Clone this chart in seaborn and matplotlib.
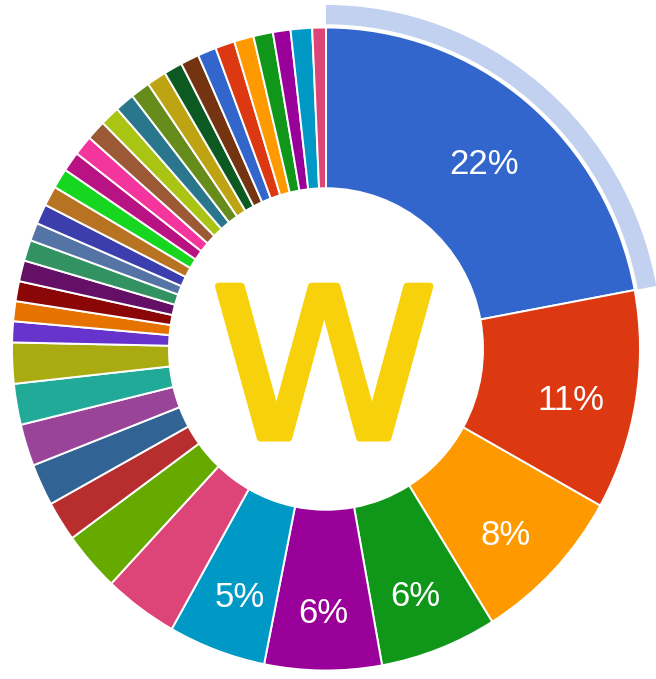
import matplotlib
matplotlib.use("Agg")
import matplotlib.pyplot as plt
import matplotlib.patheffects as pe
from matplotlib.patches import Wedge
from matplotlib.transforms import Affine2D
import numpy as np
import seaborn as sns

sns.set_theme(style="white")
plt.rcParams['font.family'] = ['Liberation Sans', 'DejaVu Sans']

categories = [
    "A", "B", "C", "D", "E", "F", "G", "H", "I", "J", "K", "L", "M",
    "N", "O", "P", "Q", "R", "S", "T", "U", "V", "W", "X", "Y", "Z",
    "AA", "AB", "AC", "AD", "AE", "AF", "AG", "AH", "AI", "AJ", "AK", "AL",
]
values = [
    22.0, 11.0, 8.0, 6.0, 6.0, 5.0, 3.8, 3.0, 2.0, 2.1, 2.1, 2.05, 2.05,
    1.05, 1.0, 1.0, 1.05, 1.05, 0.9, 1.0, 1.0, 1.0, 1.0, 1.0, 1.0, 1.0,
    1.0, 1.0, 1.0, 0.95, 0.95, 0.95, 1.0, 1.0, 1.0, 0.9, 1.1, 0.7,
]
google_colors = [
    "#3366cc", "#dc3912", "#ff9900", "#109618", "#990099", "#0099c6", "#dd4477",
    "#66aa00", "#b82e2e", "#316395", "#994499", "#22aa99", "#aaaa11", "#6633cc",
    "#e67300", "#8b0707", "#651067", "#329262", "#5574a6", "#3b3eac", "#b77322",
    "#16d620", "#b91383", "#f4359e", "#9c5935", "#a9c413", "#2a778d", "#668d1c",
    "#bea413", "#0c5922", "#743411",
]
center_text = "W"

palette = sns.color_palette(google_colors, n_colors=len(google_colors))
colors = [palette[i % len(palette)] for i in range(len(values))]

W, H = 656, 679
fig = plt.figure(figsize=(W / 100, H / 100), dpi=100)
ax = fig.add_axes([0, 0, 1, 1])

wedges, _ = ax.pie(values, labels=None, colors=colors, startangle=90,
                   counterclock=False, radius=1.0,
                   wedgeprops=dict(width=0.5, edgecolor="white", linewidth=1.4))

# selection ring around the first slice
w0 = wedges[0]
ring = Wedge((0, 0), 1.07, w0.theta1, w0.theta2, width=0.06,
             facecolor="#c2d1f0", edgecolor="none")
ax.add_patch(ring)

cx, cy, rx, ry = 326, 349, 314, 321.5
ax.set_aspect("auto")
ax.set_xlim(-cx / rx, (W - cx) / rx)
ax.set_ylim(-(H - cy) / ry, cy / ry)
ax.axis("off")

total = sum(values)
for w, v in zip(wedges, values):
    pct = v / total * 100
    if pct < 4.5:
        continue
    mid = np.deg2rad((w.theta1 + w.theta2) / 2)
    r = 0.79
    ax.text(r * np.cos(mid), r * np.sin(mid) - 0.034, f"{pct:.0f}%",
            ha="center", va="center", color="white", fontsize=25)


class StretchStroke(pe.AbstractPathEffect):
    """Widen the glyph horizontally around x0 and stroke it with round joins."""

    def __init__(self, sx, x0, lw, color):
        super().__init__()
        self.sx, self.x0, self.lw, self.color = sx, x0, lw, color

    def draw_path(self, renderer, gc, tpath, affine, rgbFace=None):
        t = affine + Affine2D().translate(-self.x0, 0).scale(self.sx, 1).translate(self.x0, 0)
        gc0 = renderer.new_gc()
        gc0.copy_properties(gc)
        gc0.set_linewidth(self.lw)
        gc0.set_foreground(self.color)
        gc0.set_joinstyle("round")
        gc0.set_capstyle("round")
        renderer.draw_path(gc0, tpath, t, rgbFace)
        gc0.restore()


w_color = "#f7d20c"
wx, wy = -0.006, -0.277
x0_disp = ax.transData.transform((wx, wy))[0]
ax.text(wx, wy, center_text, ha="center", va="baseline", color=w_color,
        fontsize=150, family="DejaVu Sans",
        path_effects=[StretchStroke(1.10, x0_disp, 5, w_color)])

fig.savefig("out.png", dpi=100, facecolor="white")
